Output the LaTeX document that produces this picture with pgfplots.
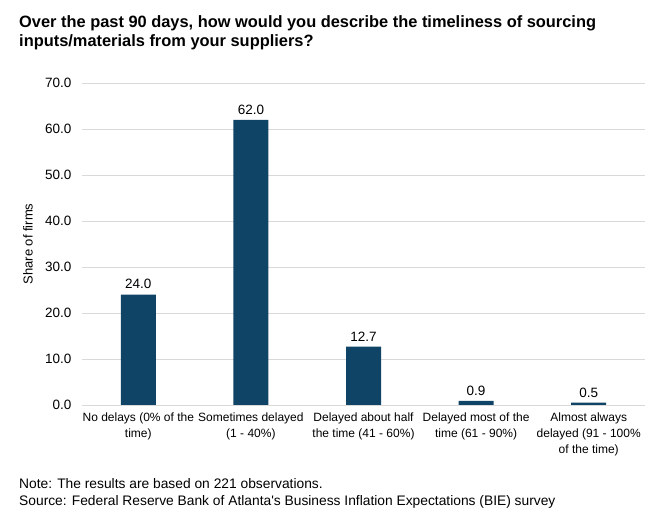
\documentclass[border=0pt]{standalone}
\usepackage{pgfplots}
\pgfplotsset{compat=1.18}
\usepackage{fontspec}
\setmainfont{Liberation Sans}
\definecolor{barblue}{RGB}{16,68,102}
\definecolor{gridgray}{RGB}{217,217,217}
\begin{document}
\begin{tikzpicture}[x=1pt,y=1pt]
\useasboundingbox (0,0) rectangle (658,518);
% title
\node[anchor=base west, inner sep=0pt, font=\fontsize{16.4}{20}\selectfont\bfseries]
  at (19,490) {Over the past 90 days, how would you describe the timeliness of sourcing};
\node[anchor=base west, inner sep=0pt, font=\fontsize{16.4}{20}\selectfont\bfseries]
  at (19,471) {inputs/materials from your suppliers?};
\begin{axis}[
  at={(82pt,113pt)}, anchor=south west,
  scale only axis, width=563pt, height=322pt,
  xmin=-0.5, xmax=4.5, ymin=0, ymax=70,
  ybar, bar width=35pt,
  ytick={0,10,...,70},
  xtick={0,1,2,3,4},
  xticklabels={{No delays (0\% of the\\time)},
               {Sometimes delayed\\(1 - 40\%)},
               {Delayed about half\\the time (41 - 60\%)},
               {Delayed most of the\\time (61 - 90\%)},
               {Almost always\\delayed (91 - 100\%\\of the time)}},
  xticklabel style={align=center, font=\fontsize{12}{16}\selectfont, yshift=-4pt},
  axis line style={draw=none},
  major tick length=0pt,
  ymajorgrids, grid style={gridgray, line width=0.9pt},
  yticklabel style={font=\fontsize{13.5}{16}\selectfont, xshift=-7pt,
    /pgf/number format/.cd, fixed, fixed zerofill, precision=1, assume math mode=true},
  ylabel={Share of firms},
  ylabel style={at={(axis description cs:-0.096,0.5)}, anchor=center,
    font=\fontsize{13}{16}\selectfont},
  nodes near coords,
  nodes near coords style={font=\fontsize{13.5}{16}\selectfont, yshift=2pt,
    /pgf/number format/.cd, fixed, fixed zerofill, precision=1, assume math mode=true},
]
\addplot[fill=barblue, draw=none] coordinates {(0,24.0) (1,62.0) (2,12.7) (3,0.9) (4,0.5)};
\end{axis}
% footnotes
\node[anchor=base west, inner sep=0pt, font=\fontsize{13.8}{16}\selectfont]
  at (19,29) {Note: The results are based on 221 observations.};
\node[anchor=base west, inner sep=0pt, font=\fontsize{13.8}{16}\selectfont]
  at (19,12) {Source: Federal Reserve Bank of Atlanta\textquotesingle s Business Inflation Expectations (BIE) survey};
\end{tikzpicture}
\end{document}
